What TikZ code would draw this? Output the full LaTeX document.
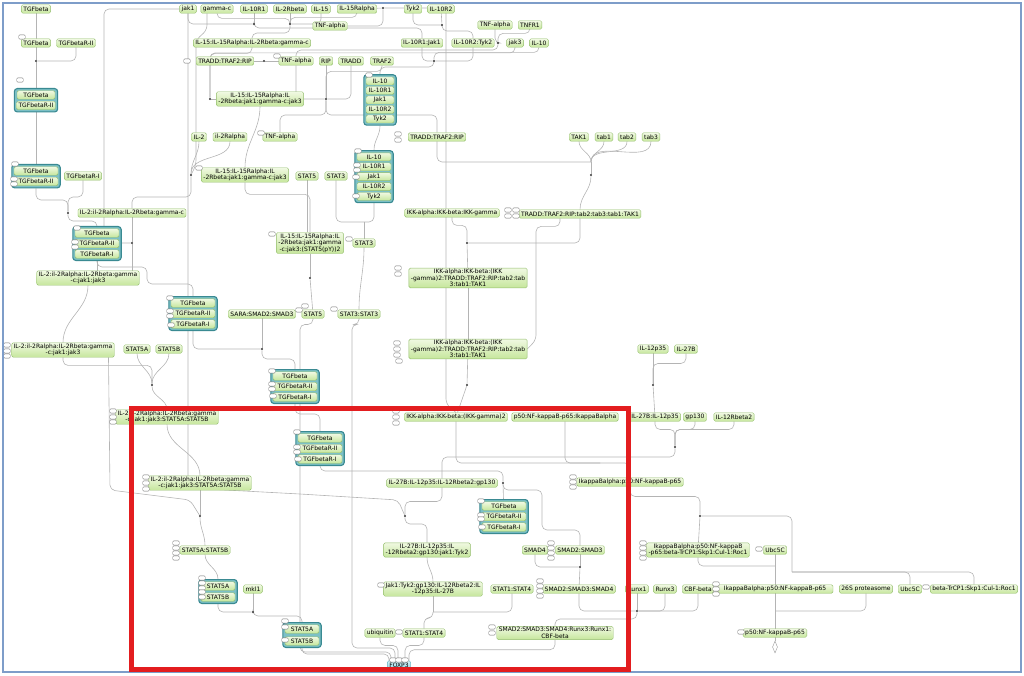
\documentclass[tikz,border=0pt]{standalone}
\usepackage{fontspec}
\setmainfont{DejaVu Sans}
\usetikzlibrary{positioning,fit,backgrounds,shapes.geometric}
\pgfdeclarelayer{edges}
\pgfsetlayers{edges,background,main}
\definecolor{spT}{HTML}{F0F9E2}
\definecolor{spB}{HTML}{C6E69C}
\definecolor{spD}{HTML}{93BD6C}
\definecolor{cxD}{HTML}{3A8A92}
\definecolor{cxF}{HTML}{7CC0C6}
\definecolor{fxT}{HTML}{D6F3F8}
\definecolor{fxB}{HTML}{8ED4E2}
\definecolor{fxD}{HTML}{5AAFC0}
\definecolor{lnC}{HTML}{B4B4B4}
\definecolor{frB}{HTML}{7E9DC9}
\definecolor{frR}{HTML}{E31D1F}

\begin{document}
\begin{tikzpicture}[x=1pt,y=-1pt,font=\fontsize{6}{6.6}\selectfont]
\tikzstyle{sp}=[draw=spD,top color=spT,bottom color=spB,rounded corners=1.5pt,inner xsep=2pt,inner ysep=1pt,minimum height=8.5pt,align=center]
\tikzstyle{mb}=[sp,minimum width=44pt]
\tikzstyle{fx}=[sp,draw=fxD,top color=fxT,bottom color=fxB]
\tikzstyle{cx}=[draw=cxD,fill=cxF,line width=1.1pt,rounded corners=3pt,inner sep=2pt]
\tikzstyle{dt}=[circle,fill=black!80,inner sep=0pt,minimum size=2.2pt]
\tikzstyle{tg}=[draw=black!55,fill=white,line width=0.45pt,rounded corners=1pt,inner sep=0pt,minimum width=6.5pt,minimum height=4.2pt]
\tikzstyle{dg}=[diamond,draw=gray!80,fill=white,aspect=0.4,inner sep=0pt,minimum width=5pt,minimum height=12pt]
\tikzstyle{ln}=[draw=lnC,line width=0.6pt,rounded corners=5pt]
\useasboundingbox (0,0) rectangle (1024,676);

% single species
\node[sp] (tgfA) at (36,9) {TGFbeta};
\node[sp] (jakA) at (188,9) {jak1};
\node[sp] (gcA) at (217,9) {gamma-c};
\node[sp] (r1A) at (254,9) {IL-10R1};
\node[sp] (il2rbA) at (290,9) {IL-2Rbeta};
\node[sp] (il15A) at (321,9) {IL-15};
\node[sp] (il15raA) at (357,9) {IL-15Ralpha};
\node[sp] (tyk2A) at (413,9) {Tyk2};
\node[sp] (r2A) at (441,9) {IL-10R2};
\node[sp] (tnfA) at (330,26) {TNF-alpha};
\node[sp] (tnfB) at (495,25) {TNF-alpha};
\node[sp] (tnfr1) at (530,25) {TNFR1};
\node[sp] (tgfB) at (36,43) {TGFbeta};
\node[sp] (tgfr2) at (76,43) {TGFbetaR-II};
\node[sp] (il15c1) at (252,43) {IL-15:IL-15Ralpha:IL-2Rbeta:gamma-c};
\node[sp] (r1jak) at (422,43) {IL-10R1:Jak1};
\node[sp] (r2tyk) at (473,43) {IL-10R2:Tyk2};
\node[sp] (jak3A) at (515,43) {jak3};
\node[sp] (il10A) at (539,43) {IL-10};
\node[sp] (trtrA) at (225,61) {TRADD:TRAF2:RIP};
\node[sp] (tnfC) at (296,61) {TNF-alpha};
\node[sp] (ripA) at (326,61) {RIP};
\node[sp] (traddA) at (351,61) {TRADD};
\node[sp] (traf2A) at (382,61) {TRAF2};
\node[sp] (il15c2) at (260,99) {IL-15:IL-15Ralpha:IL\\-2Rbeta:jak1:gamma-c:jak3};
\node[sp] (il2A) at (199,137) {IL-2};
\node[sp] (il2raA) at (230,137) {il-2Ralpha};
\node[sp] (tnfD) at (280,137) {TNF-alpha};
\node[sp] (trtrB) at (437,137) {TRADD:TRAF2:RIP};
\node[sp] (tak1) at (579,137) {TAK1};
\node[sp] (tab1) at (604,137) {tab1};
\node[sp] (tab2) at (627,137) {tab2};
\node[sp] (tab3) at (651,137) {tab3};
\node[sp] (tgfr1) at (83,176) {TGFbetaR-I};
\node[sp] (il15c3) at (245,175) {IL-15:IL-15Ralpha:IL\\-2Rbeta:jak1:gamma-c:jak3};
\node[sp] (stat5A) at (307,176) {STAT5};
\node[sp] (stat3A) at (336,176) {STAT3};
\node[sp] (il2c1) at (132,213) {IL-2:il-2Ralpha:IL-2Rbeta:gamma-c};
\node[sp] (ikk) at (452,213) {IKK-alpha:IKK-beta:IKK-gamma};
\node[sp] (tttt) at (580,214) {TRADD:TRAF2:RIP:tab2:tab3:tab1:TAK1};
\node[sp] (il15c4) at (310,243) {IL-15:IL-15Ralpha:IL\\-2Rbeta:jak1:gamma\\-c:jak3:(STAT5(pY))2};
\node[sp] (stat3B) at (364,243) {STAT3};
\node[sp] (il2c2) at (88,278) {IL-2:il-2Ralpha:IL-2Rbeta:gamma\\-c:jak1:jak3};
\node[sp] (ikkc1) at (468,278) {IKK-alpha:IKK-beta:(IKK\\-gamma)2:TRADD:TRAF2:RIP:tab2:tab\\3:tab1:TAK1};
\node[sp] (sara) at (262,314) {SARA:SMAD2:SMAD3};
\node[sp] (stat5B) at (313,314) {STAT5};
\node[sp] (stat33) at (359,314) {STAT3:STAT3};
\node[sp] (ikkc2) at (468,349) {IKK-alpha:IKK-beta:(IKK\\-gamma)2:TRADD:TRAF2:RIP:tab2:tab\\3:tab1:TAK1};
\node[sp] (il2c3) at (63,350) {IL-2:il-2Ralpha:IL-2Rbeta:gamma\\-c:jak1:jak3};
\node[sp] (stat5a) at (137,349) {STAT5A};
\node[sp] (stat5b) at (169,349) {STAT5B};
\node[sp] (il12p35) at (653,349) {IL-12p35};
\node[sp] (il27b) at (686,349) {IL-27B};
\node[sp] (il2c4) at (167,417) {IL-2:il-2Ralpha:IL-2Rbeta:gamma\\-c:jak1:jak3:STAT5A:STAT5B};
\node[sp] (ikk2) at (456,417) {IKK-alpha:IKK-beta:(IKK-gamma)2};
\node[sp] (nfkb1) at (565,417) {p50:NF-kappaB-p65:IkappaBalpha};
\node[sp] (il27c1) at (655,417) {IL-27B:IL-12p35};
\node[sp] (gp130) at (695,417) {gp130};
\node[sp] (il12rb2) at (734,417) {IL-12Rbeta2};
\node[sp] (ikbnf) at (630,482) {IkappaBalpha:p50:NF-kappaB-p65};
\node[sp] (il2c5) at (200,483) {IL-2:il-2Ralpha:IL-2Rbeta:gamma\\-c:jak1:jak3:STAT5A:STAT5B};
\node[sp] (il27c2) at (442,483) {IL-27B:IL-12p35:IL-12Rbeta2:gp130};
\node[sp] (s5ab) at (205,550) {STAT5A:STAT5B};
\node[sp] (il27c3) at (427,550) {IL-27B:IL-12p35:IL\\-12Rbeta2:gp130:jak1:Tyk2};
\node[sp] (smad4) at (535,550) {SMAD4};
\node[sp] (smad23) at (580,550) {SMAD2:SMAD3};
\node[sp] (ikbbt) at (698,550) {IkappaBalpha:p50:NF-kappaB\\-p65:beta-TrCP1:Skp1:Cul-1:Roc1};
\node[sp] (ubc5cA) at (775,550) {Ubc5C};
\node[sp] (mkl1) at (253,589) {mkl1};
\node[sp] (il27c4) at (433,589) {Jak1:Tyk2:gp130:IL-12Rbeta2:IL\\-12p35:IL-27B};
\node[sp] (s14A) at (512,589) {STAT1:STAT4};
\node[sp] (smad234) at (579,589) {SMAD2:SMAD3:SMAD4};
\node[sp] (runx1) at (637,589) {Runx1};
\node[sp] (runx3) at (665,589) {Runx3};
\node[sp] (cbfb) at (698,589) {CBF-beta};
\node[sp,minimum width=116pt] (ikbnf2) at (775,589) {IkappaBalpha:p50:NF-kappaB-p65};
\node[sp] (prot26) at (866,589) {26S proteasome};
\node[sp] (ubc5cB) at (910,589) {Ubc5C};
\node[sp] (btrcp) at (974,589) {beta-TrCP1:Skp1:Cul-1:Roc1};
\node[sp] (ubq) at (380,633) {ubiquitin};
\node[sp] (s14B) at (424,633) {STAT1:STAT4};
\node[sp] (smadrunx) at (555,633) {SMAD2:SMAD3:SMAD4:Runx3:Runx1:\\CBF-beta};
\node[sp] (p50nf) at (775,633) {p50:NF-kappaB-p65};
\node[fx] (foxp3) at (399,665) {FOXP3};
\node[dg] (deg) at (775,647) {};

% complexes
\node[mb,minimum width=38pt] (t1-1) at (36,95) {TGFbeta};
\node[mb,minimum width=38pt] (t1-2) at (36,105.5) {TGFbetaR-II};
\node[mb] (t2-1) at (36,171) {TGFbeta};
\node[mb] (t2-2) at (36,181.5) {TGFbetaR-II};
\begin{pgfonlayer}{background}
\node[cx,fit=(t1-1)(t1-2)] (t1) {};
\node[cx,fit=(t2-1)(t2-2)] (t2) {};
\end{pgfonlayer}
\foreach \n/\cx/\cy in {t3/97/233,t4/193/303,t5/295/376,t6/320/438,t7/504/506}{
  \node[mb] (\n-1) at (\cx,\cy) {TGFbeta};
  \node[mb] (\n-2) at (\cx,\cy+10.5) {TGFbetaR-II};
  \node[mb] (\n-3) at (\cx,\cy+21) {TGFbetaR-I};
  \begin{pgfonlayer}{background}
  \node[cx,fit=(\n-1)(\n-3)] (\n) {};
  \end{pgfonlayer}
}
\foreach \lab [count=\i] in {IL-10,IL-10R1,Jak1,IL-10R2,Tyk2}{
  \node[mb,minimum width=28pt,minimum height=8pt] (ic1-\i) at (380,71.5+9.5*\i) {\lab};
  \node[mb,minimum width=34pt,minimum height=8pt] (ic2-\i) at (374,147+9.9*\i) {\lab};
}
\node[mb,minimum width=34pt] (sc1-1) at (218,586) {STAT5A};
\node[mb,minimum width=34pt] (sc1-2) at (218,597) {STAT5B};
\node[mb,minimum width=34pt] (sc2-1) at (302,629) {STAT5A};
\node[mb,minimum width=34pt] (sc2-2) at (302,641) {STAT5B};
\begin{pgfonlayer}{background}
\node[cx,fit=(ic1-1)(ic1-5)] (ic1) {};
\node[cx,fit=(ic2-1)(ic2-5)] (ic2) {};
\node[cx,fit=(sc1-1)(sc1-2)] (sc1) {};
\node[cx,fit=(sc2-1)(sc2-2)] (sc2) {};
\end{pgfonlayer}

% state tags
\foreach \tx/\ty [count=\i] in {22/37,20/80,15/164,14/179,14/184,187/61,77/228,75/242,75/247,277/56,369/75,261/133,398/134,398/140,358/151,357/165,357/170,356/177,356/196,199/168,508/210,516/210,508/216,516/216,272/234,349/239,170/298,170/311,170/316,171/325,398/268,398/274,299/310,305/306,334/309,397/343,397/349,397/355,399/361,7/345,7/351,7/356,113/411,113/417,113/422,396/411,396/417,396/423,272/371,272/384,272/389,273/396,297/432,297/447,297/452,298/459,146/477,146/483,146/489,573/477,573/482,573/487,481/501,481/515,481/519,482/527,176/543,176/548,176/553,176/558,551/543,551/548,551/553,551/558,643/543,643/548,643/553,643/558,759/549,202/578,202/583,202/588,202/592,202/597,381/585,399/632,540/581,540/586,540/591,540/596,716/584,716/589,716/594,926/587,285/621,285/627,285/640,492/627,492/633,741/632,393/660,399/660,405/660}
  \node[tg] (tg\i) at (\tx,\ty) {};

% reactions
\foreach \n/\dx/\dy in {d1/36/61,d2/68/213,d3/262/349,d4/503/483,d5/580/567,d6/637/611,d7/254/24,d8/442/25,d9/434/61,d10/290/24,d11/210/99,d12/498/43,d13/326/99,d14/264/61,d15/591/175,d16/467/243,d17/467/385,d18/653/385,d19/675/447,d20/405/516,d21/700/516,d22/191/175,d23/132/243,d24/152/385,d25/200/516,d26/253/612,d28/383/8,d30/310/278}
  \node[dt] (\n) at (\dx,\dy) {};
\coordinate (c1) at (364,222);
\coordinate (c2) at (591,162);
\coordinate (c3) at (600,463);
\coordinate (c4) at (792,572);
\coordinate (c5) at (775,566);
\coordinate (c6) at (775,611);
\coordinate (c7) at (433,612);

\begin{pgfonlayer}{edges}
% TGFbeta / SMAD
\draw[ln] (tgfA) -- (tgfB);
\draw[ln] (tgfB) -- (d1);
\draw[ln] (tgfr2) |- (d1);
\draw[ln] (d1) -- (t1);
\draw[ln] (t1) -- (t2);
\draw[ln] (t2.south) |- (68,200) -- (d2);
\draw[ln] (tgfr1) |- (68,197) -- (d2);
\draw[ln] (d2) -- ++(0,8) -| (t3.north);
\draw[ln] (t3.south) -- (t3.south |- il2c2.north);
\draw[ln] (t3.south) -- ++(0,6) -| (147,284) -| (t4.north);
\draw[ln] (t4.south) |- (d3);
\draw[ln] (sara) -- (d3);
\draw[ln] (d3) -- ++(0,10) -| (t5.north);
\draw[ln] (t5.south) -- ++(0,10) -| (t6.north);
\draw[ln] (t6.south) -- ++(0,5) -| (d4);
\draw[ln] (d4) -- (t7);
\draw[ln] (d4) |- (542,490) -- (542,530) -| (smad23.north);
\draw[ln] (smad23) -- (d5);
\draw[ln] (smad4.south) |- (d5);
\draw[ln] (d5) -- (smad234);
\draw[ln] (smad234.south) |- (d6);
\draw[ln] (runx1) -- (d6);
\draw[ln] (runx3.south) |- (d6);
\draw[ln] (cbfb.south) |- (d6);
\draw[ln] (d6) -- ++(0,8) -| (smadrunx.north);
\draw[ln] (smadrunx.south) -- ++(0,10) -| ([xshift=10]foxp3.north);
% IL-10 / STAT3
\draw[ln] (r1A) -- (d7);
\draw[ln] (jakA.south) |- (d7);
\draw[ln] (d7) -- ++(0,4) -| (r1jak.north);
\draw[ln] (tyk2A.south) |- (d8);
\draw[ln] (r2A) -- (d8);
\draw[ln] (d8) -- ++(0,6) -| (r2tyk.north);
\draw[ln] (r1jak.south) |- (d9);
\draw[ln] (r2tyk.south) |- (d9);
\draw[ln] (il10A.south) -- ++(0,5) -| (d9);
\draw[ln] (d9) -- ++(0,6) -| (ic1.north);
\draw[ln] (ic1.south) to[out=270,in=90] (ic2.north);
\draw[ln] (stat3A.south) |- (c1);
\draw[ln] (ic2.south) |- (c1);
\draw[ln] (c1) -- (stat3B);
\draw[ln] (stat3B.south) to[out=270,in=90] (stat33.north);
\draw[ln] (stat33.south) -- ++(0,6) -| (352,648) -| ([xshift=-4]foxp3.north);
% IL-15 / STAT5
\draw[ln] (il2rbA) -- (d10);
\draw[ln] (il15A.south) |- (d10);
\draw[ln] (il15raA.south) -- ++(0,4) -| (d10);
\draw[ln] (gcA.south) -- ++(0,5) -| (d10);
\draw[ln] (d10) -- ++(0,9) -| (il15c1.north);
\draw[ln] (il15c1.south) -- ++(0,6) -| (d11);
\draw[ln] (jak3A.south) -- ++(0,5.5) -| (d11);
\draw[ln] (d11) -- (il15c2);
\draw[ln] (il15c2.south) to[out=270,in=90] (il15c3.north);
\draw[ln] (il15c3.south) -- ++(0,12) -| (il15c4.north);
\draw[ln] (stat5A) -- (stat5A |- il15c4.north);
\draw[ln] (il15c4) -- (d30);
\draw[ln] (d30) -- (stat5B);
\draw[ln] (stat5B.south) -- ++(0,6) -| (300,652) -| ([xshift=-8]foxp3.north);
% TNF-alpha / IKK / NF-kappaB
\draw[ln] (il15raA) -- (d28);
\draw[ln] (tnfA.east) -| (d28);
\draw[ln] (d28) -| (446,404) -- (ikk2.north);
\draw[ln] (tnfB.south) |- (d12);
\draw[ln] (tnfr1.south) -- ++(0,4) -| (d12);
\draw[ln] (d12) -- ++(0,7) -| (tnfC.north);
\draw[ln] (tnfC) -- (d14);
\draw[ln] (d14) -- (trtrA);
\draw[ln] (tnfC.south) |- (d13);
\draw[ln] (ripA) -- (d13);
\draw[ln] (traddA.south) |- (d13);
\draw[ln] (traf2A.south) -- ++(0,6) -| (d13);
\draw[ln] (d13) -- ++(0,16) -| (tnfD.north);
\draw[ln] (d13) -- ++(0,16) -| (trtrB.north);
\draw[ln] (trtrB.south) |- (c2);
\draw[ln] (tak1.south) to[out=270,in=90] (c2);
\draw[ln] (tab1.south) to[out=270,in=90] (c2);
\draw[ln] (tab2.south) to[out=270,in=90] (c2);
\draw[ln] (tab3.south) to[out=270,in=90] (c2);
\draw[ln] (c2) -- (d15);
\draw[ln] (d15) to[out=270,in=90] (tttt.north);
\draw[ln] (tttt.south) |- (d16);
\draw[ln] (ikk.south) -- ++(0,8) -| (d16);
\draw[ln] (d16) -- (ikkc1);
\draw[ln] (ikkc1) -- (ikkc2);
\draw[ln] ([xshift=-20]tttt.south) -- ++(0,8) -| (536,340) -- (ikkc2.east);
\draw[ln] (ikkc2) -- (d17);
\draw[ln] (d17) -- (ikk2);
\draw[ln] (ikk2.south) |- (c3);
\draw[ln] (nfkb1.south) |- (c3);
\draw[ln] (c3) -| (ikbnf.north);
\draw[ln] (ikbnf.south) -- ++(0,10) -| (d21);
\draw[ln] (d21) -- (ikbbt);
\draw[ln] (btrcp.north) |- (c4);
\draw[ln] (ubc5cB.north) |- (c4);
\draw[ln] (c4) -- (792,530) |- (d21);
\draw[ln] (ikbbt.south) |- (c5);
\draw[ln] (ubc5cA) -- (c5);
\draw[ln] (c5) -- (ikbnf2);
\draw[ln] (ikbnf2) -- (c6);
\draw[ln] (prot26.south) |- (c6);
\draw[ln] (c6) -- (p50nf);
\draw[ln] (p50nf) -- (deg);
% IL-27 / STAT1:STAT4
\draw[ln] (il12p35) -- (d18);
\draw[ln] (il27b.south) -- ++(0,10) -| (d18);
\draw[ln] (d18) -- (il27c1);
\draw[ln] (il27c1.south) -- ++(0,8) -| (d19);
\draw[ln] (gp130.south) -- ++(0,8) -| (d19);
\draw[ln] (il12rb2.south) -- ++(0,8) -| (d19);
\draw[ln] (d19) -- ++(0,10) -| (il27c2.north);
\draw[ln] (il27c2.south) -- ++(0,14) -| (d20);
\draw[ln] (jakA.south) -- (188,488) -- (300,494) -- (398,500) -- (d20);
\draw[ln] (d20) -- ++(0,8) -| (il27c3.north);
\draw[ln] (il27c3.south) to[out=270,in=90] (il27c4.north);
\draw[ln] (il27c4.south) -- (c7);
\draw[ln] (s14A.south) |- (c7);
\draw[ln] (c7) -- ++(0,6) -| (s14B.north);
\draw[ln] (s14B.south) -- ++(0,8) -| ([xshift=6]foxp3.north);
\draw[ln] (ubq.south) -- ++(0,8) -| ([xshift=-1]foxp3.north);
% IL-2 / STAT5A:STAT5B
\draw[ln] (il2A.south) to[out=270,in=90] (d22);
\draw[ln] (il2raA.south) to[out=270,in=90] (d22);
\draw[ln] ([xshift=-10]gcA.south) -- (207,30) -- (196,40) -- (196,165) -- (d22);
\draw[ln] (d22) -- ++(0,22) -| (il2c1.north);
\draw[ln] (il2c1) -- (d23);
\draw[ln] (jakA.west) -| (104,190) |- (d23);
\draw[ln] (d23) -- (d23 |- il2c2.north);
\draw[ln] (il2c2.south) to[out=270,in=90] (il2c3.north);
\draw[ln] (il2c3.south) -- ++(0,8) -| (d24);
\draw[ln] (stat5a.south) to[out=270,in=90] (d24);
\draw[ln] (stat5b.south) to[out=270,in=90] (d24);
\draw[ln] (d24) to[out=270,in=90] (il2c4.north);
\draw[ln] (il2c4.south) to[out=270,in=90] (il2c5.north);
\draw[ln] (il2c5) -- (d25);
\draw[ln] ([xshift=-6]il2c3.south east) -- (110,490) -- (190,500) -- (d25);
\draw[ln] (d25) to[out=270,in=90] (s5ab.north);
\draw[ln] (s5ab.south) to[out=270,in=90] (sc1.north);
\draw[ln] (sc1.south) |- (d26);
\draw[ln] (mkl1) -- (d26);
\draw[ln] (d26) -- ++(0,4) -| (sc2.north);
\draw[ln] (sc2.south) -- ++(0,6) -| ([xshift=-10]foxp3.north);
\end{pgfonlayer}

% frames
\draw[frB,line width=1.6pt] (3,3) rectangle (1021,672);
\draw[frR,line width=5pt] (131,408) rectangle (628,669);
\end{tikzpicture}
\end{document}
